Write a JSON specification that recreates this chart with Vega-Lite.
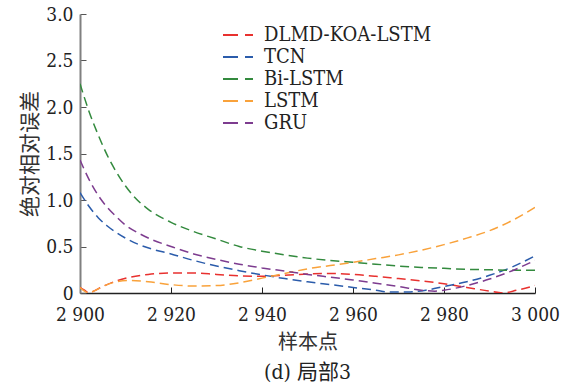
{
  "$schema": "https://vega.github.io/schema/vega-lite/v6.json",
  "width": 455,
  "height": 279,
  "autosize": {"type": "none"},
  "padding": {"left": 80, "top": 14, "right": 33, "bottom": 97},
  "background": "white",
  "config": {
    "view": {"stroke": null},
    "axis": {"labelFont": "DejaVu Serif Condensed", "labelFontSize": 19, "labelColor": "#222", "titleFontSize": 20, "titleFontWeight": "normal", "titleColor": "#333", "grid": false},
    "legend": {"labelFont": "DejaVu Serif Condensed", "labelFontSize": 20, "labelColor": "#222"}
  },
  "title": {"text": "(d) 局部3", "orient": "bottom", "anchor": "middle", "font": "DejaVu Serif Condensed, Noto Sans CJK SC", "fontSize": 21, "fontWeight": "normal", "color": "#222", "offset": 10},
  "datasets": {
    "d": [
      {"m": "DLMD-KOA-LSTM", "x": 2900, "y": 0.06}, {"m": "DLMD-KOA-LSTM", "x": 2901, "y": 0.03}, {"m": "DLMD-KOA-LSTM", "x": 2902, "y": 0.0}, {"m": "DLMD-KOA-LSTM", "x": 2903, "y": 0.02}, {"m": "DLMD-KOA-LSTM", "x": 2905, "y": 0.07}, {"m": "DLMD-KOA-LSTM", "x": 2908, "y": 0.13}, {"m": "DLMD-KOA-LSTM", "x": 2911, "y": 0.17}, {"m": "DLMD-KOA-LSTM", "x": 2915, "y": 0.2}, {"m": "DLMD-KOA-LSTM", "x": 2920, "y": 0.215}, {"m": "DLMD-KOA-LSTM", "x": 2925, "y": 0.215}, {"m": "DLMD-KOA-LSTM", "x": 2930, "y": 0.2}, {"m": "DLMD-KOA-LSTM", "x": 2935, "y": 0.185}, {"m": "DLMD-KOA-LSTM", "x": 2940, "y": 0.18}, {"m": "DLMD-KOA-LSTM", "x": 2945, "y": 0.19}, {"m": "DLMD-KOA-LSTM", "x": 2950, "y": 0.205}, {"m": "DLMD-KOA-LSTM", "x": 2955, "y": 0.21}, {"m": "DLMD-KOA-LSTM", "x": 2960, "y": 0.2}, {"m": "DLMD-KOA-LSTM", "x": 2965, "y": 0.18}, {"m": "DLMD-KOA-LSTM", "x": 2970, "y": 0.155}, {"m": "DLMD-KOA-LSTM", "x": 2975, "y": 0.13}, {"m": "DLMD-KOA-LSTM", "x": 2980, "y": 0.1}, {"m": "DLMD-KOA-LSTM", "x": 2985, "y": 0.06}, {"m": "DLMD-KOA-LSTM", "x": 2990, "y": 0.02}, {"m": "DLMD-KOA-LSTM", "x": 2993, "y": 0.0}, {"m": "DLMD-KOA-LSTM", "x": 2996, "y": 0.03}, {"m": "DLMD-KOA-LSTM", "x": 3000, "y": 0.08},
      {"m": "TCN", "x": 2900, "y": 1.08}, {"m": "TCN", "x": 2902, "y": 0.93}, {"m": "TCN", "x": 2904, "y": 0.81}, {"m": "TCN", "x": 2906, "y": 0.72}, {"m": "TCN", "x": 2908, "y": 0.65}, {"m": "TCN", "x": 2910, "y": 0.59}, {"m": "TCN", "x": 2913, "y": 0.52}, {"m": "TCN", "x": 2916, "y": 0.47}, {"m": "TCN", "x": 2920, "y": 0.42}, {"m": "TCN", "x": 2925, "y": 0.35}, {"m": "TCN", "x": 2930, "y": 0.29}, {"m": "TCN", "x": 2935, "y": 0.24}, {"m": "TCN", "x": 2940, "y": 0.195}, {"m": "TCN", "x": 2945, "y": 0.155}, {"m": "TCN", "x": 2950, "y": 0.12}, {"m": "TCN", "x": 2955, "y": 0.09}, {"m": "TCN", "x": 2960, "y": 0.06}, {"m": "TCN", "x": 2965, "y": 0.03}, {"m": "TCN", "x": 2968, "y": 0.01}, {"m": "TCN", "x": 2972, "y": 0.01}, {"m": "TCN", "x": 2976, "y": 0.03}, {"m": "TCN", "x": 2980, "y": 0.07}, {"m": "TCN", "x": 2985, "y": 0.12}, {"m": "TCN", "x": 2990, "y": 0.19}, {"m": "TCN", "x": 2995, "y": 0.28}, {"m": "TCN", "x": 3000, "y": 0.4},
      {"m": "Bi-LSTM", "x": 2900, "y": 2.25}, {"m": "Bi-LSTM", "x": 2902, "y": 1.95}, {"m": "Bi-LSTM", "x": 2904, "y": 1.7}, {"m": "Bi-LSTM", "x": 2906, "y": 1.48}, {"m": "Bi-LSTM", "x": 2908, "y": 1.3}, {"m": "Bi-LSTM", "x": 2910, "y": 1.15}, {"m": "Bi-LSTM", "x": 2912, "y": 1.03}, {"m": "Bi-LSTM", "x": 2915, "y": 0.9}, {"m": "Bi-LSTM", "x": 2920, "y": 0.76}, {"m": "Bi-LSTM", "x": 2925, "y": 0.66}, {"m": "Bi-LSTM", "x": 2930, "y": 0.58}, {"m": "Bi-LSTM", "x": 2935, "y": 0.5}, {"m": "Bi-LSTM", "x": 2940, "y": 0.45}, {"m": "Bi-LSTM", "x": 2945, "y": 0.41}, {"m": "Bi-LSTM", "x": 2950, "y": 0.375}, {"m": "Bi-LSTM", "x": 2955, "y": 0.35}, {"m": "Bi-LSTM", "x": 2960, "y": 0.33}, {"m": "Bi-LSTM", "x": 2965, "y": 0.31}, {"m": "Bi-LSTM", "x": 2970, "y": 0.29}, {"m": "Bi-LSTM", "x": 2975, "y": 0.275}, {"m": "Bi-LSTM", "x": 2980, "y": 0.265}, {"m": "Bi-LSTM", "x": 2985, "y": 0.255}, {"m": "Bi-LSTM", "x": 2990, "y": 0.25}, {"m": "Bi-LSTM", "x": 2995, "y": 0.245}, {"m": "Bi-LSTM", "x": 3000, "y": 0.245},
      {"m": "LSTM", "x": 2900, "y": 0.06}, {"m": "LSTM", "x": 2901, "y": 0.02}, {"m": "LSTM", "x": 2902, "y": 0.0}, {"m": "LSTM", "x": 2903, "y": 0.02}, {"m": "LSTM", "x": 2905, "y": 0.07}, {"m": "LSTM", "x": 2908, "y": 0.12}, {"m": "LSTM", "x": 2911, "y": 0.135}, {"m": "LSTM", "x": 2915, "y": 0.12}, {"m": "LSTM", "x": 2920, "y": 0.09}, {"m": "LSTM", "x": 2925, "y": 0.075}, {"m": "LSTM", "x": 2930, "y": 0.08}, {"m": "LSTM", "x": 2935, "y": 0.11}, {"m": "LSTM", "x": 2940, "y": 0.16}, {"m": "LSTM", "x": 2945, "y": 0.21}, {"m": "LSTM", "x": 2950, "y": 0.26}, {"m": "LSTM", "x": 2955, "y": 0.295}, {"m": "LSTM", "x": 2960, "y": 0.33}, {"m": "LSTM", "x": 2965, "y": 0.37}, {"m": "LSTM", "x": 2970, "y": 0.41}, {"m": "LSTM", "x": 2975, "y": 0.46}, {"m": "LSTM", "x": 2980, "y": 0.52}, {"m": "LSTM", "x": 2985, "y": 0.59}, {"m": "LSTM", "x": 2990, "y": 0.67}, {"m": "LSTM", "x": 2995, "y": 0.78}, {"m": "LSTM", "x": 3000, "y": 0.92},
      {"m": "GRU", "x": 2900, "y": 1.43}, {"m": "GRU", "x": 2902, "y": 1.22}, {"m": "GRU", "x": 2904, "y": 1.05}, {"m": "GRU", "x": 2906, "y": 0.92}, {"m": "GRU", "x": 2908, "y": 0.82}, {"m": "GRU", "x": 2910, "y": 0.73}, {"m": "GRU", "x": 2913, "y": 0.64}, {"m": "GRU", "x": 2916, "y": 0.57}, {"m": "GRU", "x": 2920, "y": 0.5}, {"m": "GRU", "x": 2925, "y": 0.42}, {"m": "GRU", "x": 2930, "y": 0.36}, {"m": "GRU", "x": 2935, "y": 0.31}, {"m": "GRU", "x": 2940, "y": 0.27}, {"m": "GRU", "x": 2945, "y": 0.235}, {"m": "GRU", "x": 2950, "y": 0.2}, {"m": "GRU", "x": 2955, "y": 0.17}, {"m": "GRU", "x": 2960, "y": 0.14}, {"m": "GRU", "x": 2965, "y": 0.105}, {"m": "GRU", "x": 2970, "y": 0.07}, {"m": "GRU", "x": 2975, "y": 0.03}, {"m": "GRU", "x": 2978, "y": 0.02}, {"m": "GRU", "x": 2980, "y": 0.03}, {"m": "GRU", "x": 2985, "y": 0.08}, {"m": "GRU", "x": 2990, "y": 0.15}, {"m": "GRU", "x": 2995, "y": 0.24}, {"m": "GRU", "x": 3000, "y": 0.35}
    ]
  },
  "data": {"name": "d"},
  "mark": {"type": "line", "strokeWidth": 1.5, "strokeDash": [9, 5], "interpolate": "monotone", "clip": true},
  "encoding": {
    "x": {"field": "x", "type": "quantitative", "scale": {"domain": [2900, 3000], "nice": false, "zero": false},
      "axis": {"values": [2900, 2920, 2940, 2960, 2980, 3000], "labelExpr": "replace(format(datum.value, ','), ',', ' ')", "title": "样本点", "titleFont": "Noto Sans CJK SC", "titleFontSize": 20, "titlePadding": 8, "tickSize": -6, "tickColor": "#222", "domainColor": "#222", "domainWidth": 1.5, "labelPadding": 18, "labelFlush": false}},
    "y": {"field": "y", "type": "quantitative", "scale": {"domain": [0, 3], "nice": false},
      "axis": {"values": [0, 0.5, 1, 1.5, 2, 2.5, 3], "labelExpr": "datum.value == 0 ? '0' : format(datum.value, '.1f')", "title": "绝对相对误差", "titleFont": "Noto Sans CJK SC", "titleFontSize": 21, "titlePadding": 5, "tickSize": -6, "tickColor": "#555", "domainColor": "#808080", "domainWidth": 2, "labelPadding": 13, "labelFlush": false}},
    "color": {"field": "m", "type": "nominal", "sort": null,
      "scale": {"domain": ["DLMD-KOA-LSTM", "TCN", "Bi-LSTM", "LSTM", "GRU"], "range": ["#e8312f", "#2b5cab", "#338a3e", "#f9a23b", "#7d3c8f"]},
      "legend": {"title": null, "orient": "none", "legendX": 147, "legendY": 10, "symbolType": "M-1.5,0H1.5", "symbolSize": 400, "symbolStrokeWidth": 2, "symbolDash": [15, 7], "labelOffset": 15, "rowPadding": 1, "labelLimit": 300}}
  }
}
